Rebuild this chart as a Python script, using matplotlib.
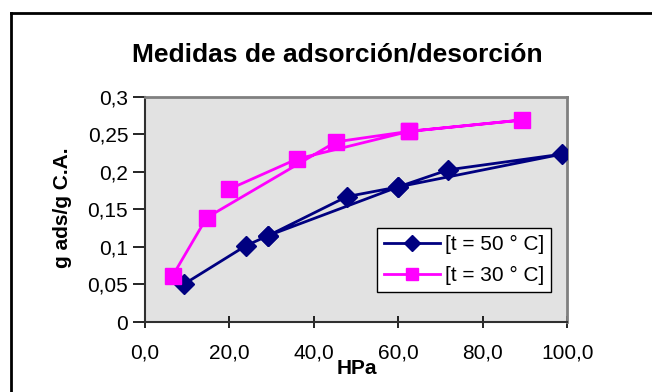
import matplotlib
matplotlib.use("Agg")
import matplotlib.pyplot as plt
from matplotlib.lines import Line2D
from matplotlib.ticker import FixedLocator

# Data (path order as drawn: adsorption then desorption)
pressure_50 = [9.35, 23.95, 29.2, 47.8, 60.0, 71.8, 98.7, 60.0, 29.2]
uptake_50 = [0.0507, 0.1017, 0.115, 0.167, 0.180, 0.2027, 0.2236, 0.180, 0.115]
pressure_30 = [6.6, 14.65, 45.25, 62.6, 89.2, 62.6, 35.95, 20.0]
uptake_30 = [0.0617, 0.139, 0.240, 0.254, 0.269, 0.254, 0.217, 0.177]

series_labels = ["[t = 50 ° C]", "[t = 30 ° C]"]
x_ticks = [0, 20, 40, 60, 80, 100]
x_tick_labels = ["0,0", "20,0", "40,0", "60,0", "80,0", "100,0"]
y_ticks = [0, 0.05, 0.1, 0.15, 0.2, 0.25, 0.3]
y_tick_labels = ["0", "0,05", "0,1", "0,15", "0,2", "0,25", "0,3"]

plt.rcParams['font.family'] = ['Liberation Sans', 'DejaVu Sans']

W, H = 652, 392
fig = plt.figure(figsize=(W / 100, H / 100), dpi=100)

# chart frame (left and top visible)
fig.add_artist(Line2D([11 / W, 11 / W], [0, 1 - 13 / H], transform=fig.transFigure,
                      color='black', lw=2))
fig.add_artist(Line2D([11 / W, 1], [1 - 13 / H, 1 - 13 / H], transform=fig.transFigure,
                      color='black', lw=2))

left, right, bottom, top = 144.8, 567.3, 322, 96.8
ax = fig.add_axes([left / W, 1 - bottom / H, (right - left) / W, (bottom - top) / H])
ax.set_facecolor('#E2E2E2')
ax.set_xlim(0, 100)
ax.set_ylim(0, 0.3)

ax.plot(pressure_50, uptake_50, color='#000080', lw=2.0, marker='D', markersize=10.5,
        markerfacecolor='#000080', markeredgecolor='#000080', label=series_labels[0], zorder=3)
ax.plot(pressure_30, uptake_30, color='#FF00FF', lw=2.0, marker='s', markersize=11.5,
        markerfacecolor='#FF00FF', markeredgecolor='#FF00FF', label=series_labels[1], zorder=3)

ax.xaxis.set_major_locator(FixedLocator(x_ticks))
ax.set_xticklabels(x_tick_labels)
ax.yaxis.set_major_locator(FixedLocator(y_ticks))
ax.yaxis.set_minor_locator(FixedLocator(y_ticks))
ax.set_yticklabels(y_tick_labels)
ax.tick_params(axis='x', which='major', direction='inout', length=8.5, width=1.2,
               labelsize=15, pad=11, colors='black')
ax.tick_params(axis='y', which='major', direction='out', length=9, width=1.2,
               labelsize=15, pad=3, colors='black')
ax.tick_params(axis='y', which='minor', direction='in', length=5, width=1.2, colors='black')

for s in ['top', 'right']:
    ax.spines[s].set_color('#808080')
    ax.spines[s].set_linewidth(2)
for s in ['left', 'bottom']:
    ax.spines[s].set_color('#303030')
    ax.spines[s].set_linewidth(1.5)

fig.text(337 / W, 1 - 54 / H, "Medidas de adsorción/desorción", ha='center', va='center',
         fontsize=19, fontweight='bold')
fig.text(357 / W, 1 - 368 / H, "HPa", ha='center', va='center', fontsize=15, fontweight='bold')
fig.text(63 / W, 1 - 208 / H, "g ads/g C.A.", ha='center', va='center', fontsize=15,
         fontweight='bold', rotation=90)

leg = ax.legend(loc='upper left', bbox_to_anchor=((377 - left) / (right - left), (bottom - 228) / (bottom - top)),
                frameon=True, fancybox=False, framealpha=1, edgecolor='black', fontsize=15,
                borderpad=0.35, labelspacing=0.55, handlelength=2.65, handletextpad=0.25,
                borderaxespad=0, markerscale=0.8)
leg.get_frame().set_linewidth(1.0)

fig.savefig("out.png", dpi=100)
